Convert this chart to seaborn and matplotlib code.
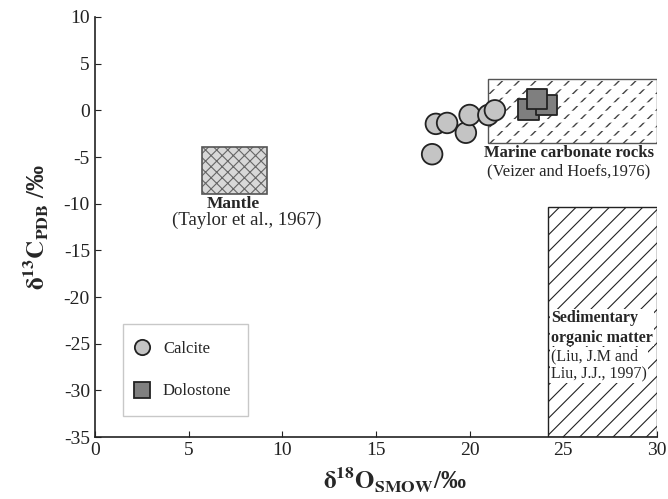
import matplotlib
matplotlib.use("Agg")
import matplotlib.pyplot as plt
import seaborn as sns
import pandas as pd
from matplotlib.patches import Rectangle
from matplotlib.lines import Line2D

# ---- data ----
calcite_o18 = [18.0, 18.2, 18.8, 19.8, 20.0, 21.0, 21.35]
calcite_c13 = [-4.7, -1.45, -1.35, -2.4, -0.5, -0.5, 0.0]
dolo_o18 = [23.15, 24.1, 23.6]
dolo_c13 = [0.1, 0.55, 1.2]

x_ticks = [0, 5, 10, 15, 20, 25, 30]
y_ticks = [10, 5, 0, -5, -10, -15, -20, -25, -30, -35]

# fields: (x0, x1, y0, y1)
marine_field = (21.0, 30.0, -3.5, 3.4)
mantle_field = (5.7, 9.2, -9.0, -3.9)
sed_field = (24.2, 30.0, -35.0, -10.3)

df = pd.DataFrame({
    "o18": calcite_o18 + dolo_o18,
    "c13": calcite_c13 + dolo_c13,
    "type": ["Calcite"] * len(calcite_o18) + ["Dolostone"] * len(dolo_o18),
})

sns.set_style("ticks")
plt.rcParams["font.family"] = ["Liberation Serif", "DejaVu Serif"]
plt.rcParams["mathtext.fontset"] = "stix"
plt.rcParams["axes.unicode_minus"] = False
plt.rcParams["hatch.linewidth"] = 0.8

fig = plt.figure(figsize=(6.68, 4.99), dpi=100)
ax = fig.add_axes([0.142, 0.124, 0.8415, 0.842])

# marine field: diagonal hatch broken into short dashes by white rows
x0, x1, y0, y1 = marine_field
with plt.rc_context({"hatch.linewidth": 1.0}):
    ax.add_patch(Rectangle((x0, y0), x1 - x0, y1 - y0, facecolor="white",
                           edgecolor="#444444", hatch="//", linewidth=0,
                           zorder=1))
with plt.rc_context({"hatch.linewidth": 2.6}):
    ax.add_patch(Rectangle((x0, y0), x1 - x0, y1 - y0, facecolor="none",
                           edgecolor="white", hatch="--", linewidth=0,
                           zorder=1.2))
ax.add_patch(Rectangle((x0, y0), x1 - x0, y1 - y0, facecolor="none",
                       edgecolor="#555555", linewidth=1.0, zorder=1.5))

x0, x1, y0, y1 = mantle_field
ax.add_patch(Rectangle((x0, y0), x1 - x0, y1 - y0, facecolor="#d8d8d8",
                       edgecolor="#666666", hatch="xxx", linewidth=0, zorder=1))
ax.add_patch(Rectangle((x0, y0), x1 - x0, y1 - y0, facecolor="none",
                       edgecolor="#555555", linewidth=1.2, zorder=1.5))

x0, x1, y0, y1 = sed_field
ax.add_patch(Rectangle((x0, y0), x1 - x0, y1 - y0, facecolor="white",
                       edgecolor="#222222", hatch="//", linewidth=0, zorder=1))
ax.add_patch(Rectangle((x0, y0), x1 - x0, y1 - y0, facecolor="none",
                       edgecolor="#222222", linewidth=1.0, zorder=1.5))

sns.scatterplot(data=df, x="o18", y="c13", hue="type", style="type",
                palette={"Calcite": "#c4c4c4", "Dolostone": "#7f7f7f"},
                markers={"Calcite": "o", "Dolostone": "s"},
                s=220, edgecolor="#222222", linewidth=1.3, ax=ax,
                legend=False, zorder=3)

# annotations
ax.text(25.3, -4.6, "Marine carbonate rocks", ha="center", va="center",
        fontsize=12, fontweight="bold", zorder=4)
ax.text(25.3, -6.5, "(Veizer and Hoefs,1976)", ha="center", va="center",
        fontsize=12, zorder=4)
ax.text(7.4, -10.0, "Mantle", ha="center", va="center", fontsize=12.5,
        fontweight="bold")
ax.text(8.1, -11.75, "(Taylor et al., 1967)", ha="center", va="center",
        fontsize=13.5)
ax.text(24.35, -23.3, "Sedimentary\norganic matter", ha="left", va="center",
        fontsize=11.5, fontweight="bold", linespacing=1.3, zorder=4,
        bbox=dict(facecolor="white", edgecolor="none", pad=0.5))
ax.text(24.35, -27.3, "(Liu, J.M and\nLiu, J.J., 1997)", ha="left", va="center",
        fontsize=11.5, linespacing=1.2, zorder=4,
        bbox=dict(facecolor="white", edgecolor="none", pad=0.5))

# axes
ax.set_xlim(0, 30)
ax.set_ylim(-35, 10)
ax.set_xticks(x_ticks)
ax.set_yticks(y_ticks)
ax.tick_params(direction="in", length=4, labelsize=14, colors="#222222",
               labelcolor="#222222")
for s in ["top", "right"]:
    ax.spines[s].set_visible(False)
for s in ["left", "bottom"]:
    ax.spines[s].set_color("#222222")
    ax.spines[s].set_linewidth(1.2)

ax.set_xlabel(r"$\mathbf{\delta^{18}O_{SMOW}}$/‰", fontsize=18,
              fontweight="bold")
ax.xaxis.set_label_coords(0.534, -0.068)
ax.set_ylabel(r"$\mathbf{\delta^{13}C_{PDB}}$ /‰", fontsize=18,
              fontweight="bold", labelpad=9)

handles = [
    Line2D([], [], linestyle="none", marker="o", markersize=11,
           markerfacecolor="#c4c4c4", markeredgecolor="#222222",
           markeredgewidth=1.3, label="Calcite"),
    Line2D([], [], linestyle="none", marker="s", markersize=11,
           markerfacecolor="#7f7f7f", markeredgecolor="#222222",
           markeredgewidth=1.3, label="Dolostone"),
]
leg = ax.legend(handles=handles, loc="lower left", bbox_to_anchor=(0.05, 0.05),
                borderaxespad=0, fontsize=12, labelspacing=1.6,
                handlelength=0.3, handletextpad=1.1, borderpad=1.0,
                fancybox=False, framealpha=1, edgecolor="#c8c8c8")
leg.get_frame().set_linewidth(1.0)

fig.savefig("out.png", dpi=100)
